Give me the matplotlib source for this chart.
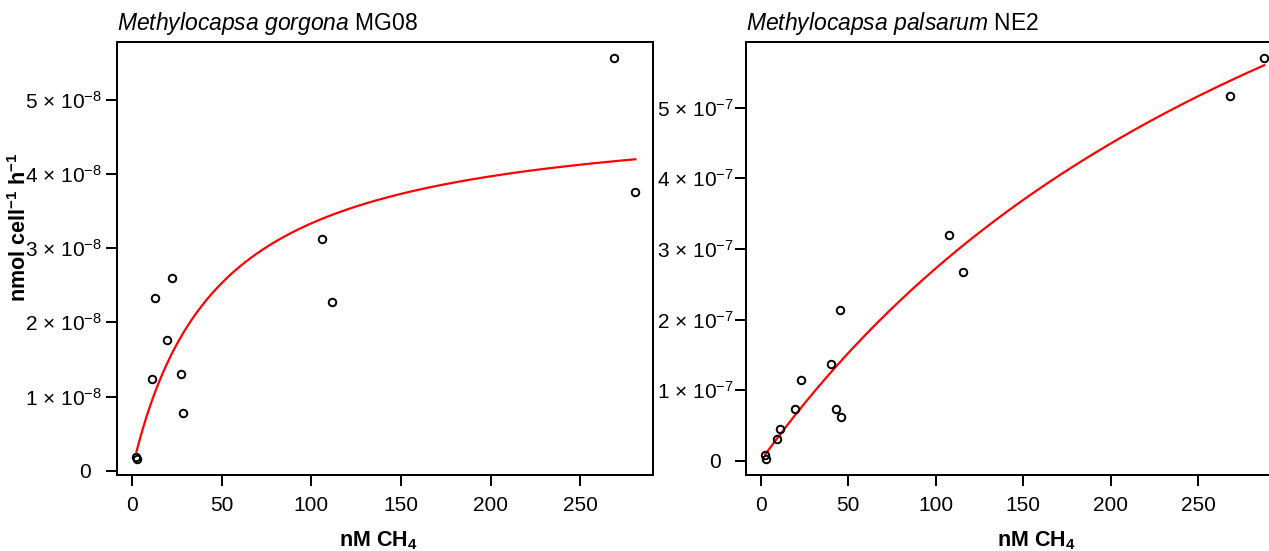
import numpy as np
import matplotlib
matplotlib.use('Agg')
import matplotlib.pyplot as plt

plt.rcParams['font.family'] = ['Liberation Sans', 'DejaVu Sans']
plt.rcParams['mathtext.fontset'] = 'custom'
plt.rcParams['mathtext.rm'] = 'Liberation Sans'
plt.rcParams['mathtext.it'] = 'Liberation Sans:italic'
plt.rcParams['mathtext.bf'] = 'Liberation Sans:bold'

# ---------------- data ----------------
# Methylocapsa gorgona MG08
gorgona_ch4 = [2.6, 2.8, 11.3, 13.0, 19.8, 22.4, 27.4, 28.8, 106.3, 111.5, 269.1, 280.7]
gorgona_rate = [1.9e-9, 1.6e-9, 1.23e-8, 2.33e-8, 1.76e-8, 2.60e-8, 1.31e-8, 0.78e-8,
                3.12e-8, 2.28e-8, 5.56e-8, 3.75e-8]
gorgona_vmax = 4.9e-8   # Michaelis-Menten fit parameters
gorgona_km = 47.0

# Methylocapsa palsarum NE2
palsarum_ch4 = [2.7, 3.1, 9.4, 11.0, 19.9, 23.0, 40.3, 43.1, 45.4, 45.8, 107.5, 115.9, 268.2, 287.8]
palsarum_rate = [0.089e-7, 0.033e-7, 0.316e-7, 0.457e-7, 0.736e-7, 1.146e-7, 1.368e-7, 0.731e-7,
                 2.137e-7, 0.623e-7, 3.203e-7, 2.670e-7, 5.17e-7, 5.70e-7]
palsarum_vmax = 12.8e-7
palsarum_km = 370.0

x_ticks = [0, 50, 100, 150, 200, 250]
gorgona_yticks = [0, 1e-8, 2e-8, 3e-8, 4e-8, 5e-8]
gorgona_ylabels = ['0'] + ['$\\mathregular{%d\\ {\\times}\\ 10^{-8}}$' % i for i in range(1, 6)]
palsarum_yticks = [0, 1e-7, 2e-7, 3e-7, 4e-7, 5e-7]
palsarum_ylabels = ['0'] + ['$\\mathregular{%d\\ {\\times}\\ 10^{-7}}$' % i for i in range(1, 6)]

titles = ['$\\mathit{Methylocapsa\\ gorgona}$ MG08', '$\\mathit{Methylocapsa\\ palsarum}$ NE2']
xlabel = 'nM CH$_{\\mathregular{4}}$'
ylabel = 'nmol cell$^{\\mathregular{-1}}$ h$^{\\mathregular{-1}}$'

# ---------------- figure ----------------
W, H = 1269, 551
fig = plt.figure(figsize=(W / 100, H / 100), dpi=100)


def px_axes(x0, x1, y0, y1):
    return fig.add_axes([x0 / W, 1 - y1 / H, (x1 - x0) / W, (y1 - y0) / H])


ax1 = px_axes(117.3, 652.7, 42.3, 474.7)
ax2 = px_axes(746.0, 1275.0, 42.3, 474.7)

lw = 1.44
panels = [
    (ax1, gorgona_ch4, gorgona_rate, gorgona_vmax, gorgona_km, gorgona_yticks, gorgona_ylabels,
     (-8.1, 290.4), (-0.054e-8, 5.774e-8), 3.5, 8.0),
    (ax2, palsarum_ch4, palsarum_rate, palsarum_vmax, palsarum_km, palsarum_yticks, palsarum_ylabels,
     (-8.3, 294.0), (-0.194e-7, 5.925e-7), 0.8, 9.5),
]

for i, (ax, xs, ys, vmax, km, yt, ylab, xl, yl, ypad, zpad) in enumerate(panels):
    xs = np.asarray(xs)
    ys = np.asarray(ys)
    xfit = np.linspace(xs.min(), xs.max(), 300)
    yfit = vmax * xfit / (km + xfit)
    ax.plot(xfit, yfit, color='#ff0000', lw=1.6, zorder=2)
    ax.plot(xs, ys, linestyle='none', marker='o', markersize=5.4, markerfacecolor='none',
            markeredgecolor='black', markeredgewidth=1.4, zorder=3)
    ax.set_xlim(*xl)
    ax.set_ylim(*yl)
    ax.set_xticks(x_ticks)
    ax.set_xticklabels([str(t) for t in x_ticks])
    ax.set_yticks(yt)
    ax.set_yticklabels(ylab)
    ax.tick_params(axis='both', direction='out', length=7.7, width=lw, labelsize=15,
                   colors='black')
    ax.tick_params(axis='x', pad=7.5)
    ax.tick_params(axis='y', pad=ypad)
    # the "0" label sits further from its tick, as in the original
    ax.yaxis.get_major_ticks()[0].set_pad(ypad + zpad)
    for sp in ax.spines.values():
        sp.set_linewidth(lw)
        sp.set_color('black')
    ax.set_title(titles[i], loc='left', fontsize=16.5, pad=8.8)
    ax.set_xlabel(xlabel, fontsize=15.5, fontweight='bold', va='top')

ax1.xaxis.set_label_coords(0.4875, -0.127)
ax2.xaxis.set_label_coords(0.5478, -0.127)
ax1.set_ylabel(ylabel, fontsize=15.5, fontweight='bold')
ax1.yaxis.set_label_coords(-0.161, 0.573)

fig.savefig('out.png', dpi=100)
